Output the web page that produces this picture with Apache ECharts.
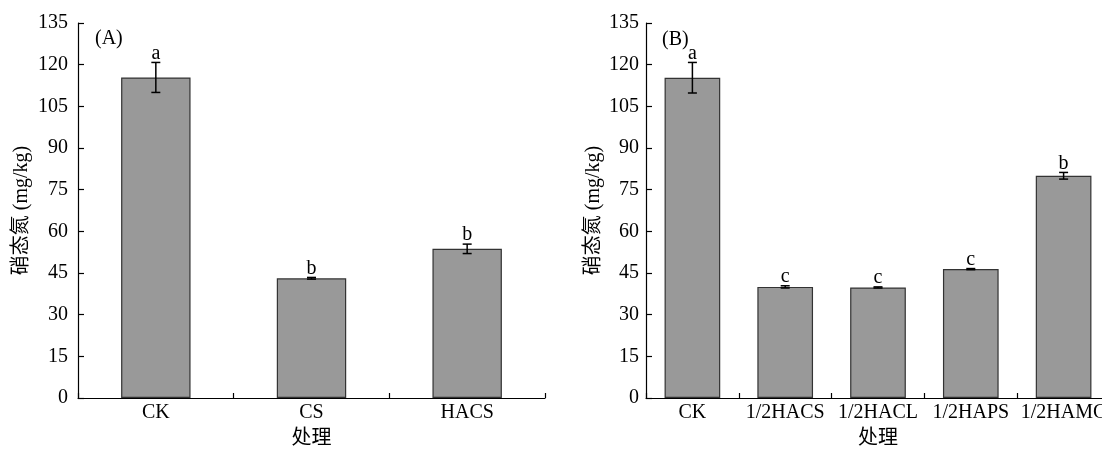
<!DOCTYPE html>
<html>
<head>
<meta charset="utf-8">
<script src="https://cdn.jsdelivr.net/npm/echarts@6/dist/echarts.min.js"></script>
<style>
html,body{margin:0;padding:0;background:#fff;overflow:hidden;}
#c{width:1102px;height:449px;}
</style>
</head>
<body>
<div id="c"></div>
<script>
// ---- data ----
const catsA = ['CK', 'CS', 'HACS'];
const meanA = [115.4, 43.1, 53.7];
const errA = [5.4, 0.3, 1.7];
const lettersA = ['a', 'b', 'b'];

const catsB = ['CK', '1/2HACS', '1/2HACL', '1/2HAPS', '1/2HAMC'];
const meanB = [115.3, 40.0, 39.8, 46.4, 80.0];
const errB = [5.5, 0.4, 0.2, 0.2, 1.2];
const lettersB = ['a', 'c', 'c', 'c', 'b'];

const yTicks = [0, 15, 30, 45, 60, 75, 90, 105, 120, 135];
const yName = '硝态氮 (mg/kg)';
const xName = '处理';
const panelA = '(A)';
const panelB = '(B)';

// ---- chart ----
const FONT = '"Liberation Serif", "Times New Roman", "Noto Sans CJK SC", serif';
const chart = echarts.init(document.getElementById('c'));

function errRenderer(letters) {
  return function (params, api) {
    const x = api.value(0), m = api.value(1), e = api.value(2);
    const top = api.coord([x, m + e]);
    const bot = api.coord([x, m - e]);
    const half = 4.5;
    return {
      type: 'group',
      children: [
        {type: 'line', shape: {x1: top[0], y1: top[1], x2: bot[0], y2: bot[1]}, style: {stroke: '#000', lineWidth: 1.5}},
        {type: 'line', shape: {x1: top[0] - half, y1: top[1], x2: top[0] + half, y2: top[1]}, style: {stroke: '#000', lineWidth: 1.5}},
        {type: 'line', shape: {x1: bot[0] - half, y1: bot[1], x2: bot[0] + half, y2: bot[1]}, style: {stroke: '#000', lineWidth: 1.5}},
        {type: 'text', style: {text: letters[params.dataIndex], x: top[0], y: top[1] + 1, align: 'center', verticalAlign: 'bottom', fontSize: 20, fontFamily: FONT, fill: '#000'}}
      ]
    };
  };
}

function yAxis(gridIndex, margin, gap) {
  return {
    gridIndex: gridIndex, type: 'value',
    min: yTicks[0], max: yTicks[yTicks.length - 1], interval: yTicks[1] - yTicks[0],
    name: yName, nameLocation: 'middle', nameGap: gap,
    nameTextStyle: {fontSize: 20, fontFamily: FONT, color: '#000'},
    axisLine: {show: true, lineStyle: {color: '#000', width: 1.2}},
    axisTick: {show: true, inside: true, length: 6, lineStyle: {color: '#000', width: 1.2}},
    axisLabel: {fontSize: 20, fontFamily: FONT, color: '#000', margin: margin},
    splitLine: {show: false}
  };
}
function xAxis(gridIndex, cats) {
  return {
    gridIndex: gridIndex, type: 'category', data: cats,
    name: xName, nameLocation: 'middle', nameGap: 31,
    nameTextStyle: {fontSize: 20, fontFamily: FONT, color: '#000'},
    axisLine: {show: true, lineStyle: {color: '#000', width: 1.2}},
    axisTick: {show: true, inside: true, length: 5, alignWithLabel: false, interval: 0, lineStyle: {color: '#000', width: 1.2}},
    axisLabel: {fontSize: 20, fontFamily: FONT, color: '#000', margin: 5, interval: 0, hideOverlap: false},
    splitLine: {show: false}
  };
}

chart.setOption({
  animation: false,
  backgroundColor: '#fff',
  title: [
    {text: panelA, left: 95, top: 29, padding: 0, textStyle: {fontSize: 20, fontWeight: 'normal', fontFamily: FONT, color: '#000'}},
    {text: panelB, left: 662, top: 30, padding: 0, textStyle: {fontSize: 20, fontWeight: 'normal', fontFamily: FONT, color: '#000'}}
  ],
  grid: [
    {left: 78, width: 467, top: 23, height: 375, containLabel: false, outerBoundsMode: 'none'},
    {left: 646, width: 464, top: 23, height: 375, containLabel: false, outerBoundsMode: 'none'}
  ],
  xAxis: [xAxis(0, catsA), xAxis(1, catsB)],
  yAxis: [yAxis(0, 10, 46), yAxis(1, 7, 42)],
  series: [
    {type: 'bar', xAxisIndex: 0, yAxisIndex: 0, data: meanA, barWidth: '44.6%',
     itemStyle: {color: '#999999', borderColor: '#333', borderWidth: 1.2}},
    {type: 'custom', xAxisIndex: 0, yAxisIndex: 0, z: 5,
     data: meanA.map((v, i) => [i, v, errA[i]]), renderItem: errRenderer(lettersA)},
    {type: 'bar', xAxisIndex: 1, yAxisIndex: 1, data: meanB, barWidth: '60%',
     itemStyle: {color: '#999999', borderColor: '#333', borderWidth: 1.2}},
    {type: 'custom', xAxisIndex: 1, yAxisIndex: 1, z: 5,
     data: meanB.map((v, i) => [i, v, errB[i]]), renderItem: errRenderer(lettersB)}
  ]
});
</script>
</body>
</html>
